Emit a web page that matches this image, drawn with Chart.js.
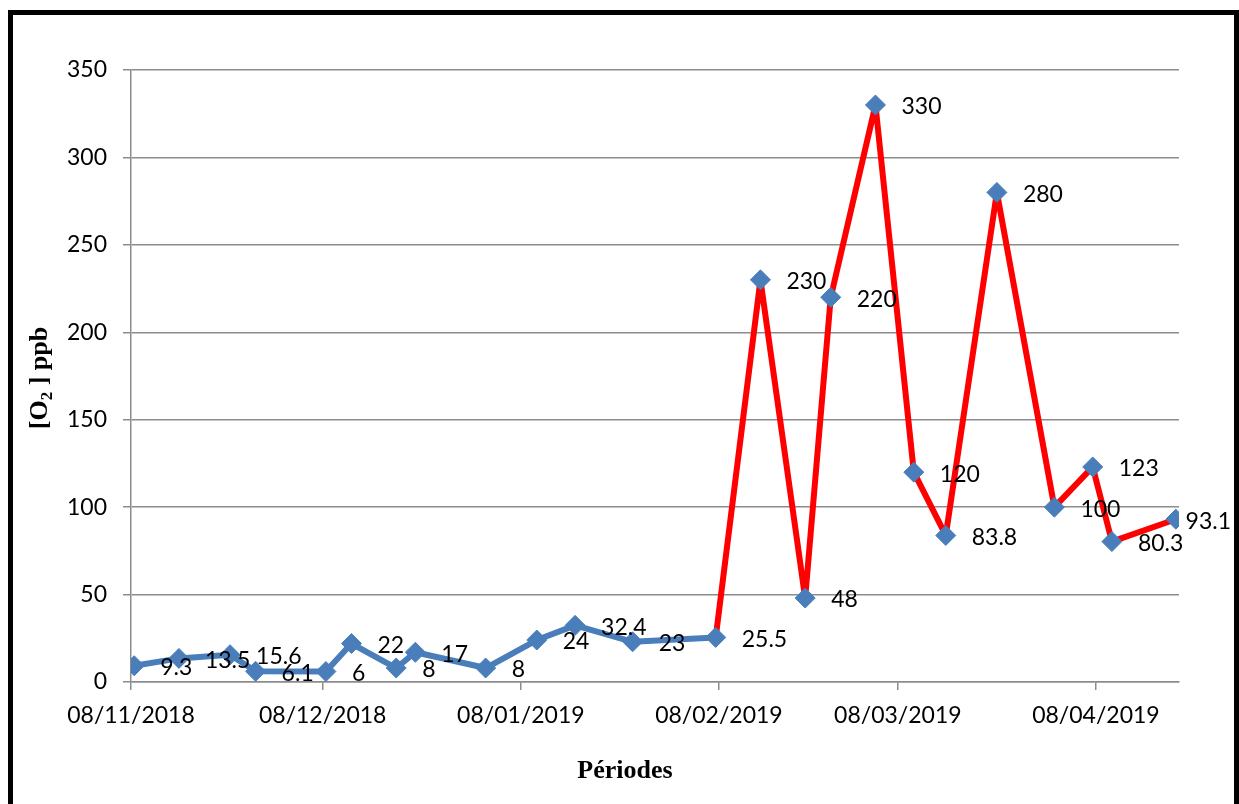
<!DOCTYPE html>
<html>
<head>
<meta charset="utf-8">
<script src="https://cdn.jsdelivr.net/npm/chart.js@4.4.1/dist/chart.umd.min.js"></script>
<style>
    html, body { margin: 0; padding: 0; background: #fff; }
    #wrap { width: 1239px; height: 804px; }
</style>
</head>
<body>
<div id="wrap"><canvas id="o2Chart" width="1239" height="804"></canvas></div>
<script>
// sampling dates and dissolved O2 (ppb)
const sampleDates = [
    '2018-11-08', '2018-11-15', '2018-11-23', '2018-11-27', '2018-12-08', '2018-12-12',
    '2018-12-19', '2018-12-22', '2019-01-02', '2019-01-10', '2019-01-16', '2019-01-25',
    '2019-02-07', '2019-02-14', '2019-02-21', '2019-02-25', '2019-03-04', '2019-03-10',
    '2019-03-15', '2019-03-23', '2019-04-01', '2019-04-07', '2019-04-10', '2019-04-20'
];
const o2Values = [
    9.3, 13.5, 15.6, 6.1, 6, 22,
    8, 17, 8, 24, 32.4, 23,
    25.5, 230, 48, 220, 330, 120,
    83.8, 280, 100, 123, 80.3, 93.1
];
const tickDates = ['2018-11-08', '2018-12-08', '2019-01-08', '2019-02-08', '2019-03-08', '2019-04-08'];
const axisStart = '2018-11-08';
const axisEnd = '2019-04-21';
const redFromIndex = 12; // line turns red after this sample
const yTicks = [0, 50, 100, 150, 200, 250, 300, 350];

const BLUE = '#4a7ebb';
const RED = '#ff0000';
const GRID = '#8c8c8c';
const DAY = 86400000;

function toUTC(s) {
    const [y, m, d] = s.split('-').map(Number);
    return Date.UTC(y, m - 1, d);
}
function dayNum(s) {
    return Math.round((toUTC(s) - toUTC(axisStart)) / DAY);
}
function fmtDay(n) {
    const d = new Date(toUTC(axisStart) + n * DAY);
    const p = (v) => String(v).padStart(2, '0');
    return `${p(d.getUTCDate())}/${p(d.getUTCMonth() + 1)}/${d.getUTCFullYear()}`;
}

// Excel date axis puts each point in the middle of its day
const points = sampleDates.map((s, i) => ({ x: dayNum(s) + 0.5, y: o2Values[i] }));
const tickValues = tickDates.map(dayNum);

const pointLabels = {
    id: 'pointLabels',
    afterDatasetsDraw(chart) {
        const ctx = chart.ctx;
        const meta = chart.getDatasetMeta(0);
        ctx.save();
        ctx.font = '23px Lato';
        ctx.fillStyle = '#000';
        ctx.textBaseline = 'middle';
        ctx.textAlign = 'left';
        meta.data.forEach((pt, i) => {
            const txt = String(o2Values[i]);
            const w = ctx.measureText(txt).width;
            let x = pt.x + 26;
            if (x + w > chart.width - 8) x = chart.width - 8 - w;
            ctx.fillText(txt, x, pt.y + 2);
        });
        ctx.restore();
    }
};

const frameAndTitles = {
    id: 'frameAndTitles',
    afterDraw(chart) {
        const ctx = chart.ctx;
        const area = chart.chartArea;
        ctx.save();

        // outer frame
        ctx.strokeStyle = '#000';
        ctx.lineWidth = 5;
        ctx.strokeRect(10.5, 12.5, 1226, 820);

        // x title
        ctx.fillStyle = '#000';
        ctx.font = 'bold 26px "Liberation Serif"';
        ctx.textAlign = 'center';
        ctx.textBaseline = 'middle';
        ctx.fillText('Périodes', 625, 771);

        // y title with subscript
        const big = 'bold 26px "Liberation Serif"';
        const small = 'bold 17px "Liberation Serif"';
        const parts = [['[O', big, 0], ['2', small, 5], [' ] ppb', big, 0]];
        let total = 0;
        parts.forEach(([t, f]) => { ctx.font = f; total += ctx.measureText(t).width; });
        ctx.translate(47, (area.top + area.bottom) / 2 + 2);
        ctx.rotate(-Math.PI / 2);
        ctx.textAlign = 'left';
        ctx.textBaseline = 'alphabetic';
        let x = -total / 2;
        parts.forEach(([t, f, dy]) => {
            ctx.font = f;
            ctx.fillText(t, x, dy);
            x += ctx.measureText(t).width;
        });
        ctx.restore();
    }
};

const ctx = document.getElementById('o2Chart').getContext('2d');
new Chart(ctx, {
    type: 'line',
    data: {
        datasets: [{
            data: points,
            borderColor: BLUE,
            borderWidth: 6,
            borderJoinStyle: 'round',
            borderCapStyle: 'round',
            tension: 0,
            fill: false,
            segment: {
                borderColor: (c) => c.p0DataIndex >= redFromIndex ? RED : BLUE
            },
            pointStyle: 'rectRot',
            pointRadius: 10,
            pointBackgroundColor: BLUE,
            pointBorderColor: BLUE,
            pointBorderWidth: 1
        }]
    },
    options: {
        responsive: false,
        animation: false,
        events: [],
        layout: { padding: { top: 70, right: 60, left: 0, bottom: 0 } },
        plugins: {
            legend: { display: false },
            tooltip: { enabled: false }
        },
        scales: {
            x: {
                type: 'linear',
                min: 0,
                max: dayNum(axisEnd),
                afterBuildTicks: (scale) => { scale.ticks = tickValues.map(v => ({ value: v })); },
                afterFit: (scale) => { scale.height = 804 - 682; },
                grid: { drawOnChartArea: false, drawTicks: true, tickLength: 8, color: GRID, lineWidth: 1.5 },
                border: { color: GRID, width: 1.5 },
                ticks: {
                    autoSkip: false,
                    maxRotation: 0,
                    padding: 12,
                    color: '#000',
                    font: { family: 'Lato', size: 23 },
                    callback: (v) => fmtDay(v)
                }
            },
            y: {
                min: 0,
                max: 350,
                afterBuildTicks: (scale) => { scale.ticks = yTicks.map(v => ({ value: v })); },
                afterFit: (scale) => { scale.width = 131; },
                grid: { color: GRID, lineWidth: 1.5, tickLength: 8 },
                border: { color: GRID, width: 1.5 },
                ticks: {
                    padding: 16,
                    color: '#000',
                    font: { family: 'Lato', size: 23 }
                }
            }
        }
    },
    plugins: [pointLabels, frameAndTitles]
});
</script>
</body>
</html>
